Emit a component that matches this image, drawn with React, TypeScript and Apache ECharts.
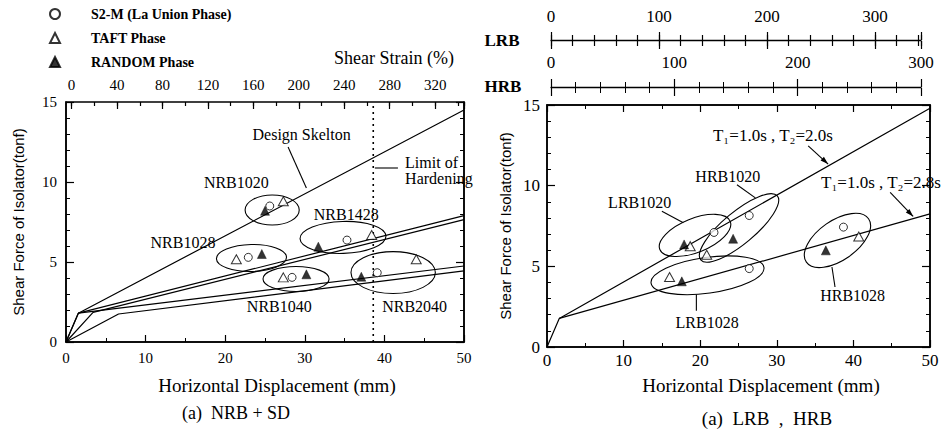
import React, { useEffect, useRef } from 'react';
import * as echarts from 'echarts';

const SERIF = 'Liberation Serif, Times New Roman, Times, serif';
const SANS = 'Liberation Sans, Arial, Helvetica, sans-serif';

// ---------- tick labels ----------
const displacementTicks = [0, 10, 20, 30, 40, 50];
const forceTicks = [0, 5, 10, 15];
const strainTickLabels = [0, 40, 80, 120, 160, 200, 240, 280, 320];
const lrbTickLabels = [0, 100, 200, 300];
const hrbTickLabels = [0, 100, 200, 300];

// ---------- legend names ----------
const S2M = 'S2-M (La Union Phase)';
const TAFT = 'TAFT Phase';
const RANDOM = 'RANDOM Phase';

// ---------- panel (a) NRB + SD : skeleton curves [mm, tonf] ----------
const nrbDesignSkelton = [[0, 0], [1.55, 1.8], [50, 14.5]];
const nrbLineA = [[0, 0], [1.55, 1.8], [50, 7.9]];
const nrbLineB = [[0, 0], [3.4, 1.85], [50, 7.65]];
const nrbLineC = [[1.55, 1.8], [50, 4.75]];
const nrbLineD = [[0, 0], [6.6, 1.75], [50, 4.44]];
const limitOfHardening = [[38.6, 0], [38.6, 15]];

// test points: NRB1020, NRB1428, NRB1028, NRB1040, NRB2040
const nrbS2M = [[25.6, 8.5], [35.3, 6.37], [22.9, 5.29], [28.4, 4.04], [39.1, 4.33]];
const nrbTaft = [[27.3, 8.8], [38.4, 6.69], [21.4, 5.17], [27.3, 4.04], [44.0, 5.17]];
const nrbRandom = [[25.0, 8.2], [31.7, 5.96], [24.6, 5.5], [30.2, 4.23], [37.1, 4.08]];

// group ellipses: major-axis ends (x1,y1,x2,y2) + minor semi-axis (tonf)
const nrbEllipses = [
  [22.5, 8.25, 29.3, 8.25, 0.94],
  [29.4, 6.45, 40.2, 6.62, 1.0],
  [18.9, 5.2, 27.7, 5.3, 0.84],
  [24.75, 3.94, 33.05, 3.94, 0.78],
  [35.8, 4.34, 46.4, 4.34, 1.31],
];
const nrbLeaders = [
  [27.9, 12.19, 30.2, 9.63, 0],
  [38.8, 10.875, 41.7, 10.875, 0],
];
const nrbLabelTexts = ['Design Skelton', 'NRB1020', 'NRB1428', 'NRB1028', 'NRB1040', 'NRB2040', 'Limit of\nHardening'];
const nrbLabelPos = [[29.6, 12.94], [21.4, 10.0], [35.2, 8.0], [14.7, 6.19], [26.8, 2.19], [43.8, 2.19], [42.6, 10.72]];
const nrbLabelAlign = ['center', 'center', 'center', 'center', 'center', 'center', 'left'];

// ---------- panel (a) LRB , HRB ----------
const lrbLine = [[0, 0], [1.6, 1.77], [50, 14.8]];
const hrbLine = [[1.6, 1.77], [50, 8.25]];

// test points: LRB1020, HRB1020, LRB1028, HRB1028
const rbS2M = [[21.8, 7.1], [26.4, 8.15], [26.4, 4.86], [38.7, 7.43]];
const rbTaft = [[18.7, 6.25], [20.85, 5.72], [16.0, 4.34], [40.7, 6.85]];
const rbRandom = [[17.9, 6.36], [24.3, 6.71], [17.6, 4.07], [36.4, 5.99]];

const rbEllipses = [
  [14.73, 6.04, 23.92, 7.79, 1.05],
  [20.07, 5.4, 30.07, 9.36, 0.99],
  [13.59, 3.96, 28.32, 4.93, 1.11],
  [33.86, 5.26, 41.98, 7.95, 1.23],
];
const rbLeaders = [
  [34.1, 12.47, 36.7, 11.34, 1],
  [44.8, 9.59, 47.8, 8.09, 1],
  [24.8, 10.06, 27.2, 9.24, 0],
  [15.0, 8.41, 17.8, 7.7, 0],
  [19.5, 2.24, 19.5, 3.25, 0],
  [37.6, 3.72, 37.2, 4.96, 0],
];
const rbLabelTexts = ['T\u2081=1.0s , T\u2082=2.0s', 'T\u2081=1.0s , T\u2082=2.8s', 'HRB1020', 'LRB1020', 'LRB1028', 'HRB1028'];
const rbLabelPos = [[29.5, 13.09], [43.6, 10.19], [23.6, 10.56], [12.1, 8.95], [20.9, 1.54], [39.9, 3.21]];
const rbLabelSize = [17, 17, 16, 16, 16, 16];

// ---------- helpers ----------
const BLACK = '#000';

function lineSeries(data: number[][], xi: number, yi: number, extra: any = {}) {
  return {
    type: 'line', xAxisIndex: xi, yAxisIndex: yi, data, symbol: 'none', silent: true, z: 2,
    lineStyle: { color: BLACK, width: 1.2, ...(extra.lineStyle || {}) },
  };
}

function scatterSeries(name: string, data: number[][], xi: number, yi: number) {
  const base: any = { type: 'scatter', name, xAxisIndex: xi, yAxisIndex: yi, data, z: 5, silent: true };
  if (name === S2M) {
    return { ...base, symbol: 'circle', symbolSize: 8, itemStyle: { color: '#fff', borderColor: BLACK, borderWidth: 1 } };
  }
  if (name === TAFT) {
    return { ...base, symbol: 'triangle', symbolSize: [10, 9], itemStyle: { color: '#fff', borderColor: BLACK, borderWidth: 1 } };
  }
  return { ...base, symbol: 'triangle', symbolSize: [9, 9], itemStyle: { color: BLACK, borderColor: BLACK, borderWidth: 0.5 } };
}

function ellipseSeries(data: number[][], xi: number, yi: number) {
  return {
    type: 'custom', xAxisIndex: xi, yAxisIndex: yi, data, silent: true, z: 3, clip: false,
    encode: { x: [0, 2], y: [1, 3] },
    renderItem: (params: any, api: any) => {
      const p1 = api.coord([api.value(0), api.value(1)]);
      const p2 = api.coord([api.value(2), api.value(3)]);
      const ry = Math.abs(api.size([0, api.value(4)])[1]);
      const dx = p2[0] - p1[0];
      const dy = p2[1] - p1[1];
      return {
        type: 'ellipse',
        x: (p1[0] + p2[0]) / 2,
        y: (p1[1] + p2[1]) / 2,
        rotation: Math.atan2(-dy, dx),
        shape: { cx: 0, cy: 0, rx: Math.hypot(dx, dy) / 2, ry },
        style: { fill: 'none', stroke: BLACK, lineWidth: 1.1 },
      };
    },
  };
}

function leaderSeries(data: number[][], xi: number, yi: number) {
  return {
    type: 'custom', xAxisIndex: xi, yAxisIndex: yi, data, silent: true, z: 3, clip: false,
    encode: { x: [0, 2], y: [1, 3] },
    renderItem: (params: any, api: any) => {
      const p1 = api.coord([api.value(0), api.value(1)]);
      const p2 = api.coord([api.value(2), api.value(3)]);
      const children: any[] = [{
        type: 'line',
        shape: { x1: p1[0], y1: p1[1], x2: p2[0], y2: p2[1] },
        style: { stroke: BLACK, lineWidth: 1.1 },
      }];
      if (api.value(4) === 1) {
        const len = Math.hypot(p2[0] - p1[0], p2[1] - p1[1]) || 1;
        const ux = (p2[0] - p1[0]) / len;
        const uy = (p2[1] - p1[1]) / len;
        const bx = p2[0] - ux * 8;
        const by = p2[1] - uy * 8;
        children.push({
          type: 'polygon',
          shape: { points: [[p2[0], p2[1]], [bx - uy * 2.5, by + ux * 2.5], [bx + uy * 2.5, by - ux * 2.5]] },
          style: { fill: BLACK },
        });
      }
      return { type: 'group', children };
    },
  };
}

function labelSeries(pos: number[][], texts: string[], xi: number, yi: number, aligns?: string[], sizes?: number[]) {
  return {
    type: 'custom', xAxisIndex: xi, yAxisIndex: yi, data: pos, silent: true, z: 6, clip: false,
    encode: { x: 0, y: 1 },
    renderItem: (params: any, api: any) => {
      const p = api.coord([api.value(0), api.value(1)]);
      const i = params.dataIndex;
      const size = sizes ? sizes[i] : 16;
      return {
        type: 'text', x: p[0], y: p[1],
        style: {
          text: texts[i], fontFamily: SERIF, fontSize: size, lineHeight: 16, fill: BLACK,
          align: aligns ? aligns[i] : 'center', verticalAlign: 'middle',
        },
      };
    },
  };
}

const tickFmt = (allowed: number[]) => (v: number) => (allowed.indexOf(Math.round(v * 1000) / 1000) >= 0 ? String(v) : '');

function plotX(gridIndex: number, position: string, showLabels: boolean, fontSize: number, margin: number, name?: string, nameGap?: number, namePad?: number) {
  return {
    type: 'value', gridIndex, position, min: 0, max: 50, interval: 10,
    axisLine: { show: true, onZero: false, lineStyle: { color: BLACK, width: 1.5 } },
    axisTick: { show: true, inside: true, length: 7, lineStyle: { color: BLACK, width: 1.2 } },
    minorTick: { show: true, splitNumber: 2, length: 4, lineStyle: { color: BLACK, width: 1 } },
    splitLine: { show: false },
    axisLabel: { show: showLabels, color: BLACK, fontFamily: SERIF, fontSize, margin, formatter: tickFmt(displacementTicks) },
    name: name || '', nameLocation: 'middle', nameGap: nameGap || 0,
    nameTextStyle: { color: BLACK, fontFamily: SERIF, fontSize: 19, padding: [0, 0, 0, namePad || 0] },
  };
}

function plotY(gridIndex: number, position: string, showLabels: boolean, fontSize: number, margin: number, name?: string, nameGap?: number) {
  return {
    type: 'value', gridIndex, position, min: 0, max: 15, interval: 5,
    axisLine: { show: true, onZero: false, lineStyle: { color: BLACK, width: 1.5 } },
    axisTick: { show: true, inside: true, length: 8, lineStyle: { color: BLACK, width: 1.2 } },
    minorTick: { show: true, splitNumber: 5, length: 4, lineStyle: { color: BLACK, width: 1 } },
    splitLine: { show: false },
    axisLabel: { show: showLabels, color: BLACK, fontFamily: SERIF, fontSize, margin, formatter: tickFmt(forceTicks) },
    name: name || '', nameLocation: 'middle', nameGap: nameGap || 0,
    nameTextStyle: { color: BLACK, fontFamily: SANS, fontSize: 15 },
  };
}

function scaleAxis(gridIndex: number, position: string, max: number, interval: number, tickLen: number, opts: any = {}) {
  return {
    type: 'value', gridIndex, position, min: 0, max, interval,
    axisLine: { show: !!opts.line, onZero: false, lineStyle: { color: BLACK, width: 1.3 } },
    axisTick: { show: true, inside: !!opts.inside, length: tickLen, lineStyle: { color: BLACK, width: 1.2 } },
    minorTick: opts.minor ? { show: true, splitNumber: opts.minor, length: opts.minorLen || 5, lineStyle: { color: BLACK, width: 1 } } : { show: false },
    splitLine: { show: false },
    axisLabel: opts.labels
      ? { show: true, color: BLACK, fontFamily: SERIF, fontSize: opts.fontSize || 15, margin: opts.margin || 8, formatter: tickFmt(opts.labels) }
      : { show: false },
  };
}

const hiddenY = (gridIndex: number) => ({ type: 'value', gridIndex, min: 0, max: 1, show: false });

const option: any = {
  animation: false,
  backgroundColor: '#fff',
  legend: {
    data: [S2M, TAFT, RANDOM],
    orient: 'vertical', left: 44, top: 2, itemWidth: 10, itemHeight: 10, itemGap: 10,
    selectedMode: false,
    textStyle: { fontFamily: SERIF, fontSize: 14, fontWeight: 'bold', color: BLACK, padding: [0, 0, 0, 26] },
  },
  grid: [
    { left: 66, top: 102, width: 398, height: 240, show: true, borderColor: BLACK, borderWidth: 1.5, backgroundColor: 'transparent' },
    { left: 71.6, top: 102, width: 392.4, height: 1 },
    { left: 547, top: 105, width: 383, height: 242, show: true, borderColor: BLACK, borderWidth: 1.5, backgroundColor: 'transparent' },
    { left: 551, top: 40, width: 370, height: 1 },
    { left: 551, top: 87, width: 370, height: 1 },
  ],
  xAxis: [
    plotX(0, 'bottom', true, 15, 8, 'Horizontal Displacement (mm)', 34, 24),
    scaleAxis(1, 'top', 345.4, 40, 7, { inside: true, labels: strainTickLabels, fontSize: 15, margin: 10 }),
    scaleAxis(1, 'top', 345.4, 20, 4, { inside: true }),
    plotX(2, 'bottom', true, 17, 5, 'Horizontal Displacement (mm)', 29, 45),
    plotX(2, 'top', false, 14, 8),
    scaleAxis(3, 'top', 342.6, 100, 8, { line: true, labels: lrbTickLabels, fontSize: 17, margin: 15 }),
    scaleAxis(3, 'top', 342.6, 20, 5, {}),
    scaleAxis(3, 'bottom', 342.6, 100, 8, {}),
    scaleAxis(3, 'bottom', 342.6, 20, 5, {}),
    scaleAxis(4, 'top', 300, 100, 8, { line: true, labels: hrbTickLabels, fontSize: 17, margin: 16, minor: 5, minorLen: 5 }),
    scaleAxis(4, 'bottom', 300, 100, 8, { minor: 5, minorLen: 5 }),
  ],
  yAxis: [
    plotY(0, 'left', true, 15, 9, 'Shear Force of Isolator(tonf)', 40),
    plotY(0, 'right', false, 14, 8),
    hiddenY(1),
    plotY(2, 'left', true, 17, 7, 'Shear Force of Isolator(tonf)', 34),
    plotY(2, 'right', false, 14, 8),
    hiddenY(3),
    hiddenY(4),
  ],
  graphic: [
    { type: 'text', x: 394, y: 58, style: { text: 'Shear Strain (%)', fontFamily: SERIF, fontSize: 18, fill: BLACK, align: 'center', verticalAlign: 'middle' } },
    { type: 'text', x: 502, y: 40, style: { text: 'LRB', fontFamily: SERIF, fontSize: 17, fontWeight: 'bold', fill: BLACK, align: 'center', verticalAlign: 'middle' } },
    { type: 'text', x: 503, y: 86, style: { text: 'HRB', fontFamily: SERIF, fontSize: 17, fontWeight: 'bold', fill: BLACK, align: 'center', verticalAlign: 'middle' } },
    { type: 'text', x: 236, y: 413, style: { text: '(a)  NRB + SD', fontFamily: SERIF, fontSize: 18, fill: BLACK, align: 'center', verticalAlign: 'middle' } },
    { type: 'text', x: 767, y: 418, style: { text: '(a)  LRB  ,  HRB', fontFamily: SERIF, fontSize: 19, fill: BLACK, align: 'center', verticalAlign: 'middle' } },
  ],
  series: [
    lineSeries(nrbDesignSkelton, 0, 0),
    lineSeries(nrbLineA, 0, 0),
    lineSeries(nrbLineB, 0, 0),
    lineSeries(nrbLineC, 0, 0),
    lineSeries(nrbLineD, 0, 0),
    lineSeries(limitOfHardening, 0, 0, { lineStyle: { type: [2, 4], width: 1.6 } }),
    ellipseSeries(nrbEllipses, 0, 0),
    leaderSeries(nrbLeaders, 0, 0),
    labelSeries(nrbLabelPos, nrbLabelTexts, 0, 0, nrbLabelAlign),
    scatterSeries(S2M, nrbS2M, 0, 0),
    scatterSeries(TAFT, nrbTaft, 0, 0),
    scatterSeries(RANDOM, nrbRandom, 0, 0),

    lineSeries(lrbLine, 3, 3),
    lineSeries(hrbLine, 3, 3),
    ellipseSeries(rbEllipses, 3, 3),
    leaderSeries(rbLeaders, 3, 3),
    labelSeries(rbLabelPos, rbLabelTexts, 3, 3, undefined, rbLabelSize),
    scatterSeries(S2M, rbS2M, 3, 3),
    scatterSeries(TAFT, rbTaft, 3, 3),
    scatterSeries(RANDOM, rbRandom, 3, 3),
  ],
};

export default function App() {
  const ref = useRef<HTMLDivElement>(null);
  useEffect(() => {
    if (!ref.current) return;
    const chart = echarts.init(ref.current, undefined, { renderer: 'svg' });
    chart.setOption(option);
    return () => chart.dispose();
  }, []);
  return (
    <div
      ref={ref}
      style={{ position: 'fixed', left: 0, top: 0, width: 947, height: 434, background: '#fff' }}
    />
  );
}
